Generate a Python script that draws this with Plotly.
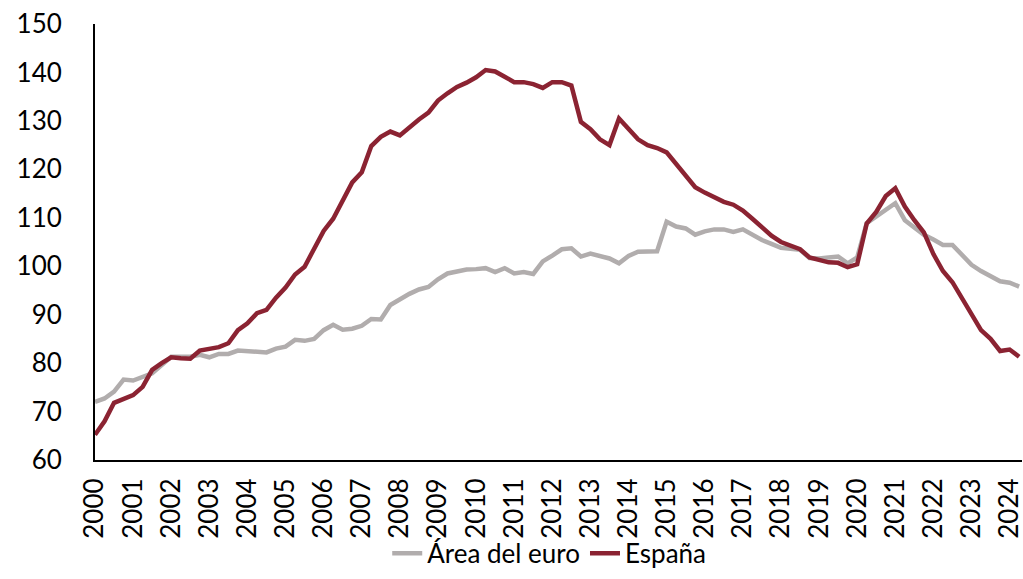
import plotly.graph_objects as go

years = [str(y) for y in range(2000, 2025)]
quarters = list(range(98))  # 2000Q1 .. 2024Q2

euro = [72.0, 72.7, 74.1, 76.6, 76.4, 77.2, 77.9, 79.6, 81.3, 81.3,
        81.3, 81.7, 81.2, 81.9, 81.9, 82.6, 82.4, 82.2, 82.2, 83.0,
        83.4, 84.8, 84.6, 85.0, 86.8, 87.9, 86.9, 87.1, 87.7, 89.1,
        89.0, 92.0, 93.2, 94.3, 95.2, 95.7, 97.3, 98.5, 98.9, 99.3,
        99.4, 99.6, 98.8, 99.6, 98.5, 98.8, 98.4, 101.0, 102.2, 103.5,
        103.7, 102.0, 102.6, 102.2, 101.6, 100.6, 102.1, 103.0, 103.0, 103.1,
        109.2, 108.2, 107.8, 106.5, 107.2, 107.6, 107.6, 107.1, 107.6, 106.5,
        105.4, 104.6, 103.8, 103.6, 103.4, 101.7, 101.6, 101.8, 102.0, 100.6,
        101.8, 108.9, 110.3, 111.6, 113.0, 109.5, 107.9, 106.5, 105.5, 104.4,
        104.4, 102.2, 100.3, 99.0, 98.0, 96.9, 96.6, 95.8]

spain = [65.2, 68.0, 71.8, 72.7, 73.4, 75.1, 78.6, 80.0, 81.2, 81.0,
         80.9, 82.6, 82.9, 83.3, 84.1, 86.8, 88.2, 90.3, 91.0, 93.5,
         95.6, 98.3, 99.9, 103.5, 107.3, 109.8, 113.5, 117.3, 119.4, 124.8,
         126.7, 127.8, 127.0, 128.8, 130.3, 131.7, 134.2, 135.7, 137.0, 137.9,
         139.0, 140.5, 140.2, 139.1, 138.0, 138.0, 137.6, 136.8, 138.0, 138.0,
         137.3, 129.8, 128.3, 126.2, 125.0, 130.5, 128.5, 126.2, 125.0, 124.4,
         123.5, 121.0, 118.5, 116.3, 115.2, 114.3, 113.3, 112.7, 111.5, 109.8,
         108.0, 106.3, 105.0, 104.3, 103.5, 101.8, 101.4, 100.8, 100.7, 99.8,
         100.4, 108.8, 111.2, 114.5, 116.1, 112.3, 109.5, 107.0, 102.5, 99.0,
         96.7, 93.3, 90.0, 86.8, 85.0, 82.5, 82.8, 81.3]

FONT = "Lato"
fig = go.Figure()
fig.add_trace(go.Scatter(x=quarters, y=euro, mode="lines", name="Área del euro",
                         line=dict(color="#B1ADAD", width=4.5)))
fig.add_trace(go.Scatter(x=quarters, y=spain, mode="lines", name="España",
                         line=dict(color="#8B2332", width=4.5)))

fig.update_layout(
    width=1023, height=579,
    margin=dict(l=95, r=1, t=24, b=119),
    paper_bgcolor="white", plot_bgcolor="white",
    font=dict(family=FONT, size=26, color="black"),
    showlegend=True,
    legend=dict(orientation="h", x=0.49, xanchor="center", y=-0.268, yanchor="bottom",
                font=dict(family=FONT, size=26, color="black"),
                bgcolor="rgba(0,0,0,0)", itemwidth=30, tracegroupgap=0),
    xaxis=dict(range=[0, 97.3], tickmode="array", tickvals=[4 * i for i in range(len(years))],
               ticktext=years, tickangle=-90, showgrid=False, zeroline=False,
               showline=True, linecolor="black", linewidth=2, ticks="",
               automargin=False, ticklabeloverflow="allow", ticklabelstandoff=6,
               tickfont=dict(family=FONT, size=26, color="black")),
    yaxis=dict(range=[60, 150], tickmode="linear", tick0=60, dtick=10,
               showgrid=False, zeroline=False, showline=True, linecolor="black",
               linewidth=2, ticks="", ticklabelstandoff=26, automargin=False,
               ticklabeloverflow="allow",
               tickfont=dict(family=FONT, size=26, color="black")),
)

fig.write_html("out.html", config={"displayModeBar": False},
               post_script="document.body.style.margin='0';document.body.style.overflow='hidden';")
